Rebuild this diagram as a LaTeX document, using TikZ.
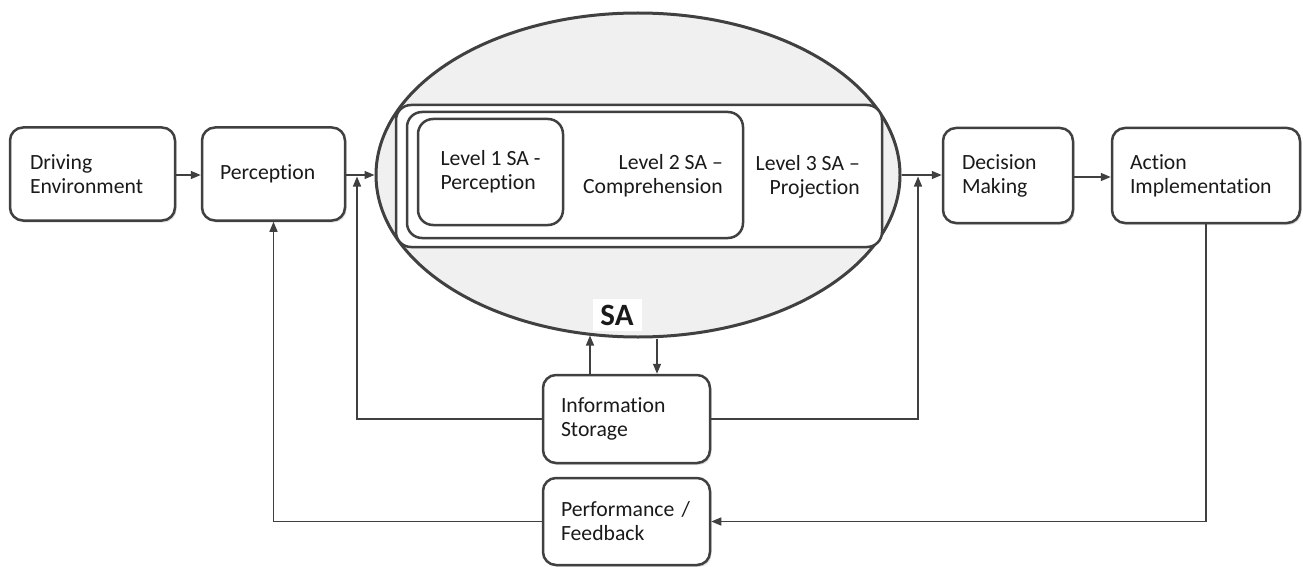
\documentclass[tikz,border=0pt]{standalone}
\usepackage{fontspec}
\setmainfont{Carlito}[Ligatures=NoCommon]
\usetikzlibrary{shapes.geometric,arrows.meta,shadows}
\definecolor{edge}{HTML}{404040}
\definecolor{ink}{HTML}{1A1A1A}
\definecolor{ellfill}{HTML}{F0F0F0}
\tikzset{
  box/.style={draw=edge, line width=2.5pt, rounded corners=13pt, fill=white,
    align=left, text=ink, inner ysep=0pt,
    font=\fontsize{21.7}{24}\selectfont,
    drop shadow={shadow xshift=1.5pt, shadow yshift=-2pt, opacity=0.25}},
  lvl/.style={draw=edge, line width=2.5pt, rounded corners=15pt, fill=white, inner sep=0pt},
  lbl/.style={text=ink, font=\fontsize{21.7}{24}\selectfont, inner sep=0pt},
  conn/.style={draw=edge, line width=1.4pt},
  arr/.style={conn, -{Triangle[length=10pt,width=8pt]}},
}
\begin{document}
\begin{tikzpicture}[x=1pt,y=-1pt]
\useasboundingbox (0,0) rectangle (1303,567);
% SA ellipse
\node[ellipse, draw=edge, line width=3pt, fill=ellfill, inner sep=0pt,
  minimum width=524pt, minimum height=324pt] (sa) at (638,175) {};
% nested level boxes
\node[lvl, minimum width=486pt, minimum height=142pt] (l3) at (639,176) {};
\node[lvl, minimum width=336pt, minimum height=126pt] (l2) at (575,175) {};
\node[lvl, minimum width=145pt, minimum height=106pt, align=left,
  text=ink, font=\fontsize{21.7}{24}\selectfont] (l1) at (490.5,172) {Level 1 SA -\\Perception};
\node[lbl, align=right, anchor=east] (l2t) at (723,176) {Level 2 SA --\\Comprehension};
\node[lbl, align=right, anchor=east] (l3t) at (860,177) {Level 3 SA --\\Projection};
\node[fill=white, inner sep=0pt, minimum width=49pt, minimum height=32pt,
  text=ink, font=\fontsize{31}{34}\selectfont\bfseries] (salbl) at (617,315) {SA};
% main boxes
\node[box, minimum width=165pt, minimum height=93pt, inner xsep=20pt, text width=125pt] (de) at (92.5,174) {Driving\\Environment};
\node[box, minimum width=143pt, minimum height=93pt, inner xsep=18pt, text width=107pt] (per) at (273.5,174) {Perception};
\node[box, minimum width=130pt, minimum height=95pt, inner xsep=19pt, text width=92pt] (dm) at (1008,175.5) {Decision\\Making};
\node[box, minimum width=188pt, minimum height=95pt, inner xsep=18pt, text width=152pt] (act) at (1206,175.5) {Action\\Implementation};
\node[box, minimum width=167pt, minimum height=88pt, inner xsep=18pt, text width=131pt] (info) at (626.5,419) {Information\\Storage};
\node[box, minimum width=167pt, minimum height=87pt, inner xsep=18pt, text width=131pt] (perf) at (626.5,521.5) {Performance /\\Feedback};
% junction coordinates
\coordinate (j1) at (357,176.5);
\coordinate (j2) at (918,176.5);
\coordinate (saup) at (590,335.5);
\coordinate (sadn) at (657,338.5);
% connectors
\draw[arr] (de.east |- 0,175) -- (per.west |- 0,175);
\draw[arr] (per.east |- 0,175) -- (sa.west);
\draw[arr] (sa.east) -- (dm.west |- 0,175);
\draw[arr] (dm.east |- 0,177) -- (act.west |- 0,177);
\draw[arr] (info.west) -| (j1);
\draw[arr] (info.east) -| (j2);
\draw[arr] (info.north -| saup) -- (saup);
\draw[arr] (sadn) -- (info.north -| sadn);
\draw[arr] (act.south) |- (perf.east);
\draw[arr] (perf.west) -| (per.south);
\end{tikzpicture}
\end{document}
